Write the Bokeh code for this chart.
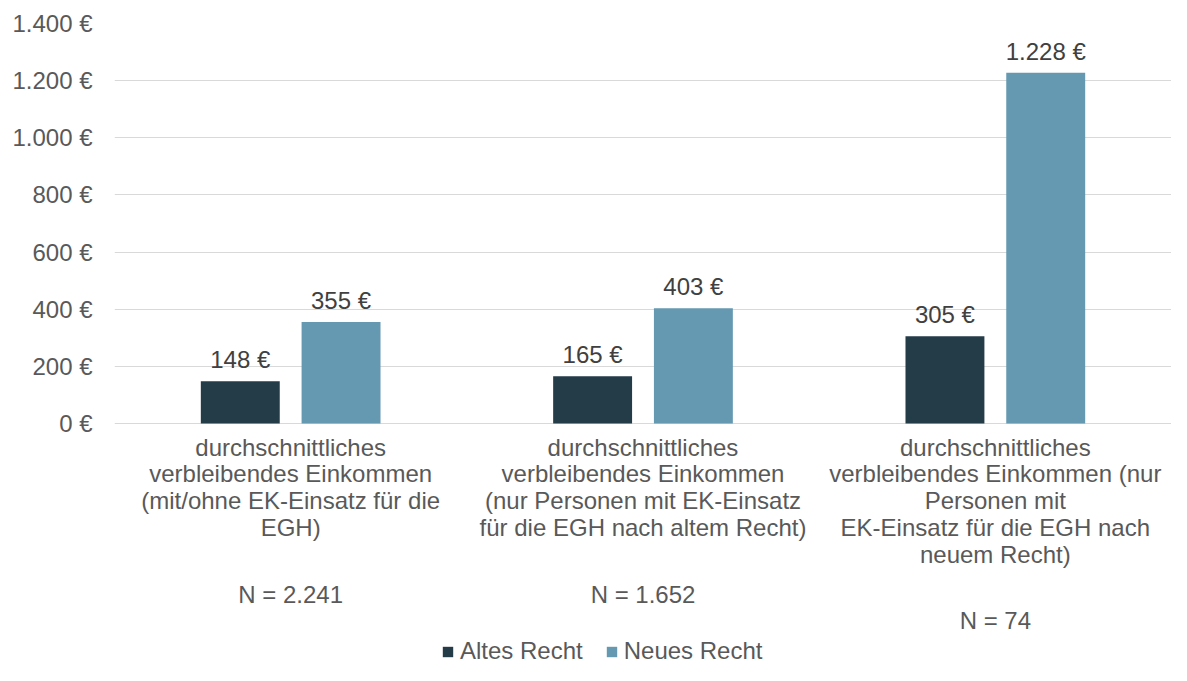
from bokeh.plotting import figure
from bokeh.models import (ColumnDataSource, FactorRange, FixedTicker, LabelSet,
                          Legend, LegendItem, Range1d)
from bokeh.core.properties import value
from bokeh.transform import dodge
from bokeh.embed import file_html
from bokeh.resources import INLINE

# ---------------- data ----------------
categories = [
    "durchschnittliches\nverbleibendes Einkommen\n(mit/ohne EK-Einsatz für die\nEGH)",
    "durchschnittliches\nverbleibendes Einkommen\n(nur Personen mit EK-Einsatz\nfür die EGH nach altem Recht)",
    "durchschnittliches\nverbleibendes Einkommen (nur\nPersonen mit\nEK-Einsatz für die EGH nach\nneuem Recht)",
]
n_labels = ["N = 2.241", "N = 1.652", "N = 74"]
series_names = ["Altes Recht", "Neues Recht"]
altes_recht = [148, 165, 305]
neues_recht = [355, 403, 1228]
y_ticks = [0, 200, 400, 600, 800, 1000, 1200, 1400]


def eur(v):
    return f"{v:,}".replace(",", ".") + " €"


FONT = "Liberation Sans"
DARK = "#243b48"
LIGHT = "#6499b1"
AXIS_TXT = "#595959"
VAL_TXT = "#404040"
GRID = "#d9d9d9"

# layout (pixels)
W, H = 1171, 665
TOP, LEFT = 23, 114
VALUE_PX = 400                     # pixel height of the 0..1400 value band
LINE_PX = 26.8                     # line spacing of the category texts
FIRST_BASELINE = 32                # first text baseline below the zero line
PARA_PX = 13                       # extra gap before the N line
y_max = y_ticks[-1]
frame_h = H - TOP
y_min = -(frame_h - VALUE_PX) * y_max / VALUE_PX   # room for labels below 0

src = ColumnDataSource(dict(
    cat=categories,
    altes=altes_recht,
    neues=neues_recht,
    altes_lbl=[eur(v) for v in altes_recht],
    neues_lbl=[eur(v) for v in neues_recht],
))

# one row per text line below each category (each line centred separately)
line_cat, line_txt, line_off = [], [], []
for c, n in zip(categories, n_labels):
    parts = c.split("\n")
    for i, t in enumerate(parts):
        line_cat.append(c)
        line_txt.append(t)
        line_off.append(-(FIRST_BASELINE + i * LINE_PX))
    line_cat.append(c)
    line_txt.append(n)
    line_off.append(-(FIRST_BASELINE + (len(parts) + 1) * LINE_PX + PARA_PX))
lines_src = ColumnDataSource(dict(
    cat=line_cat, txt=line_txt, yoff=line_off, base=[0] * len(line_cat)))

p = figure(
    x_range=FactorRange(*categories, range_padding=0),
    y_range=Range1d(y_min, y_max),
    width=W, height=H,
    output_backend="svg", toolbar_location=None,
    x_axis_location=None,
    min_border_left=LEFT, min_border_right=0,
    min_border_top=TOP, min_border_bottom=0,
)
p.outline_line_color = None
p.background_fill_color = "white"

BW = 0.224
OFF = 0.143
r1 = p.vbar(x=dodge("cat", -OFF, range=p.x_range), top="altes", width=BW,
            source=src, fill_color=DARK, line_color=None)
r2 = p.vbar(x=dodge("cat", OFF, range=p.x_range), top="neues", width=BW,
            source=src, fill_color=LIGHT, line_color=None)

for col, off in (("altes", -OFF), ("neues", OFF)):
    p.add_layout(LabelSet(
        x=dodge("cat", off, range=p.x_range), y=col, text=col + "_lbl",
        source=src, text_align="center", text_baseline="alphabetic",
        y_offset=13, text_font=value(FONT), text_font_size="24px",
        text_color=VAL_TXT))

# category descriptions + sample sizes below the baseline
p.add_layout(LabelSet(
    x="cat", y="base", text="txt", y_offset="yoff", source=lines_src,
    text_align="center", text_baseline="alphabetic",
    text_font=value(FONT), text_font_size="24px", text_color=AXIS_TXT))

# y axis
p.yaxis.ticker = FixedTicker(ticks=y_ticks)
p.yaxis.major_label_overrides = {t: eur(t) for t in y_ticks}
p.yaxis.axis_line_color = None
p.yaxis.major_tick_line_color = None
p.yaxis.minor_tick_line_color = None
p.yaxis.major_tick_out = 0
p.yaxis.major_tick_in = 0
p.yaxis.major_label_standoff = 22
p.yaxis.major_label_text_font = FONT
p.yaxis.major_label_text_font_size = "24px"
p.yaxis.major_label_text_color = AXIS_TXT

p.xgrid.grid_line_color = None
p.ygrid.grid_line_color = GRID
p.ygrid.grid_line_width = 1

legend = Legend(
    items=[LegendItem(label=series_names[0], renderers=[r1]),
           LegendItem(label=series_names[1], renderers=[r2])],
    orientation="horizontal",
    location=(327, 0),
    glyph_width=13, glyph_height=13,
    label_standoff=6, spacing=22, padding=0, margin=0,
    label_text_font=FONT, label_text_font_size="24px",
    label_text_color=AXIS_TXT,
    border_line_color=None, background_fill_alpha=0,
)
p.add_layout(legend, "center")

open("out.html", "w").write(file_html(p, INLINE))
